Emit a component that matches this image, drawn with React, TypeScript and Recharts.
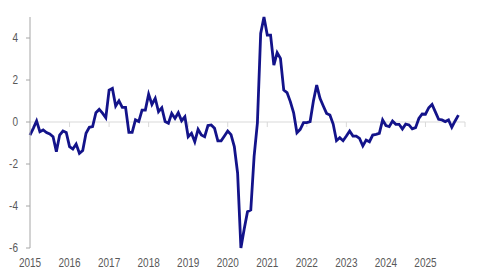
import React from "react";
import { LineChart, Line, XAxis, YAxis, ReferenceLine } from "recharts";

const startYear = 2015;
const values: number[] = [
  -0.62, -0.3, 0.05, -0.46, -0.38, -0.5, -0.57, -0.7, -1.41, -0.62, -0.43, -0.5,
  -1.17, -1.29, -1.05, -1.49, -1.36, -0.54, -0.25, -0.22, 0.44, 0.6, 0.42, 0.2,
  1.52, 1.6, 0.76, 1.01, 0.7, 0.7, -0.49, -0.49, 0.1, 0.02, 0.57, 0.57,
  1.32, 0.84, 1.13, 0.49, 0.68, 0.02, -0.06, 0.41, 0.17, 0.44, 0.06, 0.25,
  -0.7, -0.54, -0.94, -0.35, -0.62, -0.7, -0.17, -0.14, -0.3, -0.9, -0.9, -0.67,
  -0.43, -0.6, -1.17, -2.44, -6.0, -5.1, -4.27, -4.19, -1.65, -0.06, 4.22, 5.0,
  4.14, 4.14, 2.71, 3.3, 3.03, 1.52, 1.4, 0.97, 0.44, -0.51, -0.35, -0.03,
  -0.03, 0.02, 1.0, 1.76, 1.13, 0.76, 0.41, 0.33, -0.1, -0.89, -0.75, -0.89,
  -0.67, -0.43, -0.67, -0.67, -0.78, -1.14, -0.86, -0.94, -0.62, -0.59, -0.54, 0.1,
  -0.17, -0.22, 0.05, -0.11, -0.11, -0.33, -0.1, -0.14, -0.33, -0.27, 0.17, 0.38,
  0.37, 0.68, 0.84, 0.48, 0.13, 0.1, 0.02, 0.1, -0.25, 0.05, 0.33,
];
const xTicks = [2015, 2016, 2017, 2018, 2019, 2020, 2021, 2022, 2023, 2024, 2025];
const xTickMarks = [2016, 2017, 2018, 2019, 2020, 2021, 2022, 2023, 2024, 2025, 2026];
const yTicks = [-6, -4, -2, 0, 2, 4];

const data = values.map((v, i) => ({ t: startYear + i / 12, v }));

const FONT = "'Liberation Sans', Arial, sans-serif";
const LABEL_COLOR = "#595959";

const XTick = (props: any) => {
  const { x, y, payload } = props;
  return (
    <g transform={`translate(${x},${y})`}>
      <text
        transform="scale(0.8,1)"
        textAnchor="middle"
        dy="0.71em"
        fill={LABEL_COLOR}
        fontSize={12.5}
        fontFamily={FONT}
      >
        {payload.value}
      </text>
    </g>
  );
};

const YTick = (props: any) => {
  const { x, y, payload } = props;
  return (
    <g transform={`translate(${x},${y})`}>
      <text
        transform="scale(0.8,1)"
        textAnchor="end"
        dy="0.355em"
        fill={LABEL_COLOR}
        fontSize={12.5}
        fontFamily={FONT}
      >
        {payload.value}
      </text>
    </g>
  );
};

export default function App() {
  return (
    <div style={{ position: "absolute", left: 0, top: 0, width: 480, height: 274, background: "#fff" }}>
      <LineChart width={480} height={274} data={data} margin={{ top: 17, right: 15, bottom: 0, left: 0 }}>
        <XAxis
          dataKey="t"
          type="number"
          domain={[2015, 2026]}
          ticks={xTicks}
          interval={0}
          axisLine={false}
          tickLine={false}
          tickMargin={4}
          height={26}
          tick={<XTick />}
        />
        <YAxis
          type="number"
          domain={[-6, 5]}
          ticks={yTicks}
          interval={0}
          width={30}
          tickSize={4}
          tickMargin={8}
          axisLine={{ stroke: "#a6a6a6" }}
          tickLine={{ stroke: "#a6a6a6" }}
          tick={<YTick />}
        />
        <ReferenceLine y={0} stroke="#d9d9d9" strokeWidth={1} />
        {xTickMarks.map((yr) => (
          <ReferenceLine
            key={yr}
            segment={[{ x: yr, y: 0 }, { x: yr, y: -0.24 }]}
            stroke="#d9d9d9"
            strokeWidth={1}
          />
        ))}
        <Line
          type="linear"
          dataKey="v"
          stroke="#13138a"
          strokeWidth={2.8}
          dot={false}
          isAnimationActive={false}
        />
      </LineChart>
    </div>
  );
}
